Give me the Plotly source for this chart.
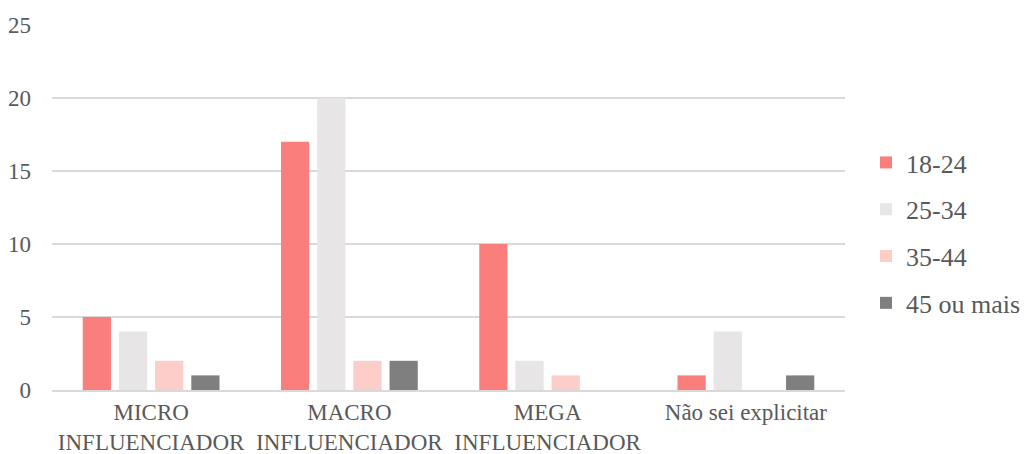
import plotly.graph_objects as go

categories = ["MICRO<br>INFLUENCIADOR", "MACRO<br>INFLUENCIADOR", "MEGA<br>INFLUENCIADOR", "Não sei explicitar"]
series_names = ["18-24", "25-34", "35-44", "45 ou mais"]
values_18_24 = [5, 17, 10, 1]
values_25_34 = [4, 20, 2, 4]
values_35_44 = [2, 2, 1, 0]
values_45_plus = [1, 2, 0, 1]
colors = ["#FA7F7C", "#E7E5E6", "#FDCDC9", "#7F7F7F"]

fig = go.Figure()
for i, (name, vals) in enumerate(zip(series_names, [values_18_24, values_25_34, values_35_44, values_45_plus])):
    fig.add_trace(go.Bar(
        x=categories, y=vals, name=name, marker_color=colors[i],
        marker_line_width=0, legendgroup=f"g{i}",
    ))

font_family = "Liberation Serif"
text_font = dict(family=font_family, size=23, color="#595959")
legend_font = dict(family=font_family, size=26, color="#595959")
fig.update_layout(
    width=1024, height=454,
    margin=dict(l=52, r=179, t=25, b=64, autoexpand=False),
    plot_bgcolor="white", paper_bgcolor="white",
    barmode="group", bargap=0.27, bargroupgap=0.22,
    font=text_font,
    legend=dict(x=1.0265, y=0.43, xanchor="left", yanchor="middle",
                font=legend_font, tracegroupgap=10, itemwidth=30),
    showlegend=True,
)
fig.update_yaxes(range=[0, 25], tickvals=[0, 5, 10, 15, 20, 25], showgrid=True,
                 gridcolor="#D9D9D9", gridwidth=1.5, zeroline=False, showline=False,
                 ticks="", ticklabelstandoff=20, tickfont=text_font, automargin=False)
fig.update_xaxes(showline=True, linecolor="#D9D9D9", linewidth=1.5, ticks="",
                 ticklabelstandoff=1, tickfont=text_font, automargin=False)

fig.write_html("out.html")
